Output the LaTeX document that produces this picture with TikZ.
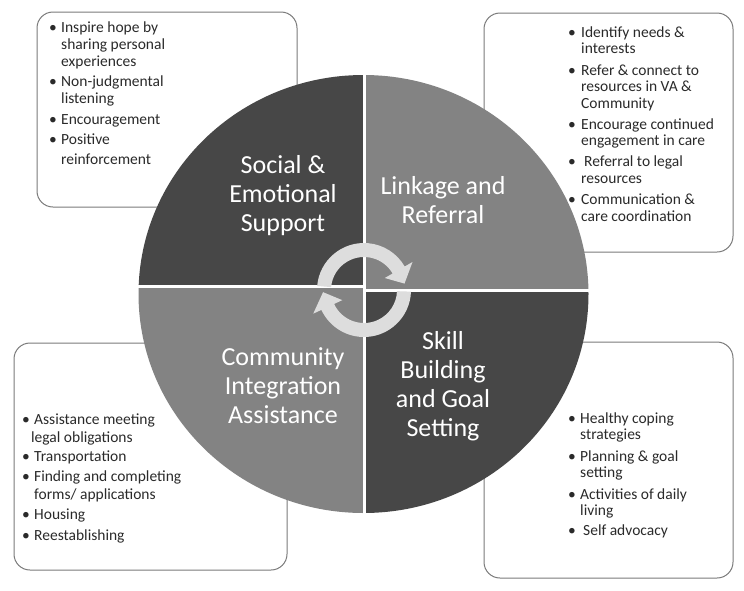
\documentclass[tikz,border=0pt]{standalone}
\usepackage{fontspec}
\setmainfont{Carlito}
\definecolor{darkq}{HTML}{474747}
\definecolor{lightq}{HTML}{838383}
\definecolor{ringc}{HTML}{DDDDDD}
\definecolor{boxline}{HTML}{7A7A7A}
\definecolor{txt}{HTML}{2A2A2A}
\newcommand{\bl}[1][12pt]{\makebox[#1][l]{\textbullet}}
\newcommand{\ind}[1][12pt]{\hspace*{#1}}
\newenvironment{blist}{\begin{tabular}[t]{@{}l@{}}}{\end{tabular}}
\tikzset{
  box/.style={draw=boxline, line width=1pt, fill=white, rounded corners=16pt, inner sep=0pt},
  boxtext/.style={anchor=base west, inner sep=0pt, text=txt},
  qlabel/.style={align=center, inner sep=0pt, text=white, font=\fontsize{26}{29}\selectfont},
}
\begin{document}
\begin{tikzpicture}[x=1pt, y=-1pt]
\useasboundingbox (0,0) rectangle (744,590);
\fill[white] (0,0) rectangle (744,590);

% boxes
\node[box, minimum width=260pt, minimum height=195pt] (b1) at (167,109.5) {};
\node[box, minimum width=249pt, minimum height=239pt] (b2) at (608.5,132.5) {};
\node[box, minimum width=273pt, minimum height=227pt] (b3) at (150.5,456.5) {};
\node[box, minimum width=249pt, minimum height=236pt] (b4) at (608.5,460) {};

% box texts
\node[boxtext, font=\fontsize{15.5}{17}\selectfont] (t1) at (49,32) {\begin{blist}
\bl Inspire hope by\\ \ind sharing personal\\ \ind experiences\\[3pt]
\bl Non-judgmental\\ \ind listening\\[4pt]
\bl Encouragement\\[3pt]
\bl Positive\\[3pt] \ind reinforcement\end{blist}};

\node[boxtext, font=\fontsize{15.5}{16.5}\selectfont] (t2) at (568,37) {\begin{blist}
\bl[13pt]Identify needs \&\\ \ind[13pt]interests\\[5pt]
\bl[13pt]Refer \& connect to\\ \ind[13pt]resources in VA \&\\ \ind[13pt]Community\\[4.5pt]
\bl[13pt]Encourage continued\\ \ind[13pt]engagement in care\\[4.5pt]
\bl[16pt]Referral to legal\\ \ind[13pt]resources\\[5pt]
\bl[13pt]Communication \&\\ \ind[13pt]care coordination\end{blist}};

\node[boxtext, font=\fontsize{15.5}{18}\selectfont] (t3) at (22,424) {\begin{blist}
\bl Assistance meeting\\ \ind[9pt]legal obligations\\[1pt]
\bl Transportation\\[2pt]
\bl Finding and completing\\ \ind forms/ applications\\[2pt]
\bl Housing\\[3pt]
\bl Reestablishing\end{blist}};

\node[boxtext, font=\fontsize{15.5}{16}\selectfont] (t4) at (568,423) {\begin{blist}
\bl Healthy coping\\ \ind strategies\\[6pt]
\bl Planning \& goal\\ \ind setting\\[6pt]
\bl Activities of daily\\ \ind living\\[4pt]
\bl[15pt]Self advocacy\end{blist}};

% quadrants
\begin{scope}
\clip (363.5,294) ellipse [x radius=225pt, y radius=219pt];
\fill[darkq] (100,40) rectangle (363,285);
\fill[lightq] (366,40) rectangle (640,288.5);
\fill[lightq] (100,288) rectangle (363,560);
\fill[darkq] (366,291.5) rectangle (640,560);
\end{scope}

% center cycle arrows
\begin{scope}[shift={(364,290)}]
\fill[ringc] (175:47pt) arc[start angle=175, end angle=30, radius=47pt]
  -- (30:56pt) -- (9:41pt) -- (30:24pt) -- (30:33pt)
  arc[start angle=30, end angle=175, radius=33pt] -- cycle;
\fill[ringc] (-2:47pt) arc[start angle=-2, end angle=-155, radius=47pt]
  -- (-155:56pt) -- (-177:41pt) -- (-155:24pt) -- (-155:33pt)
  arc[start angle=-155, end angle=-2, radius=33pt] -- cycle;
\end{scope}

% quadrant labels
\node[qlabel] (q1) at (283,196) {Social \&\\Emotional\\Support};
\node[qlabel] (q2) at (443,200) {Linkage and\\Referral};
\node[qlabel] (q3) at (443,386) {Skill\\Building\\and Goal\\Setting};
\node[qlabel] (q4) at (283,386) {Community\\Integration\\Assistance};
\end{tikzpicture}
\end{document}
